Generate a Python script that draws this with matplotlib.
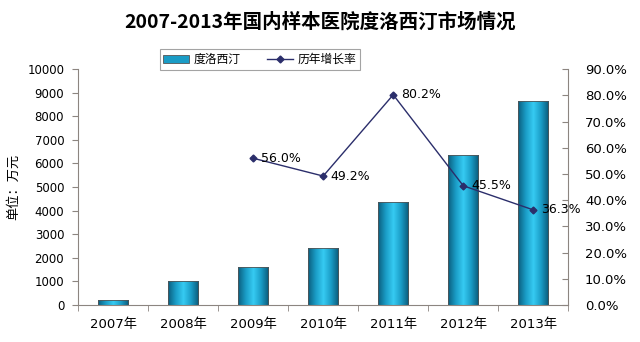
import numpy as np
import matplotlib.pyplot as plt
from matplotlib.colors import LinearSegmentedColormap
from matplotlib.lines import Line2D
from matplotlib.patches import Patch

plt.rcParams['font.family'] = ['DejaVu Sans', 'Noto Sans CJK SC']

# datos
anios = ['2007年', '2008年', '2009年', '2010年', '2011年', '2012年', '2013年']
ventas = [200, 1040, 1620, 2420, 4360, 6350, 8660]
crecimiento = [None, None, 56.0, 49.2, 80.2, 45.5, 36.3]

fig = plt.figure(figsize=(6.4, 3.42), dpi=100)
ax = fig.add_axes([0.122, 0.108, 0.766, 0.690])
x = np.arange(len(anios))

# barras con degradado tipo cilindro
cmap = LinearSegmentedColormap.from_list('cil', ['#0a5d7d', '#1a9cc6', '#36cbf2', '#1a9cc6', '#0a5878'])
grad = np.linspace(0, 1, 256).reshape(1, -1)
bars = ax.bar(x, ventas, width=0.43, color='none', edgecolor='#555555', linewidth=0.6, zorder=2)
for b in bars:
    im = ax.imshow(grad, cmap=cmap, aspect='auto', zorder=1.5,
                   extent=[b.get_x(), b.get_x() + b.get_width(), 0, b.get_height()])
    im.set_clip_path(b)

ax.set_xlim(-0.5, len(anios) - 0.5)
ax.set_ylim(0, 10000)
ax.set_yticks(range(0, 10001, 1000))
ax.set_xticks(x)
ax.set_xticklabels(anios, fontsize=9.5)
ax.set_xticks(np.arange(-0.5, len(anios), 1), minor=True)
ax.tick_params(axis='x', which='major', length=0, pad=9)
ax.tick_params(axis='x', which='minor', length=4, direction='out', color='#8c8580')
ax.tick_params(axis='y', labelsize=8.5, length=4, direction='out', color='#8c8580', pad=6)
ax.set_ylabel('单位：万元', fontsize=9.5, family=['Noto Sans CJK SC'], labelpad=5)
for s in ['top', 'right']:
    ax.spines[s].set_visible(False)
for s in ['left', 'bottom']:
    ax.spines[s].set_color('#8c8580')

# eje derecho: tasa de crecimiento
ax2 = ax.twinx()
ax2.set_ylim(0, 90)
ax2.set_yticks(range(0, 91, 10))
ax2.set_yticklabels([f'{v:.1f}%' for v in range(0, 91, 10)])
ax2.tick_params(axis='y', labelsize=9.5, length=4, direction='in', color='#8c8580', pad=12)
for s in ['top', 'left', 'bottom']:
    ax2.spines[s].set_visible(False)
ax2.spines['right'].set_color('#8c8580')

xs = [i for i, v in enumerate(crecimiento) if v is not None]
ys = [v for v in crecimiento if v is not None]
ax2.plot(xs, ys, color='#2b2e6b', linewidth=1, marker='D', markersize=3.5, zorder=3)
for xi, yi in zip(xs, ys):
    ax2.annotate(f'{yi:.1f}%', (xi, yi), xytext=(5.5, 0), textcoords='offset points',
                 va='center', ha='left', fontsize=9)

fig.suptitle('2007-2013年国内样本医院度洛西汀市场情况', x=0.5, y=0.965,
             fontsize=14, fontweight='bold', family=['Noto Sans CJK SC'])

handles = [Patch(facecolor='#1a9cc6', edgecolor='#555555', linewidth=0.6),
           Line2D([], [], color='#2b2e6b', marker='D', markersize=3.5, linewidth=1)]
leg = fig.legend(handles, ['度洛西汀', '历年增长率'], ncol=2, loc='center',
                 bbox_to_anchor=(0.406, 0.826), fancybox=False, edgecolor='#8c8c8c',
                 prop={'family': 'Noto Sans CJK SC', 'size': 8.5}, handlelength=2.2,
                 columnspacing=2.2, borderpad=0.3, handletextpad=0.4)
leg.get_frame().set_linewidth(0.8)

fig.savefig('out.png', dpi=100)
